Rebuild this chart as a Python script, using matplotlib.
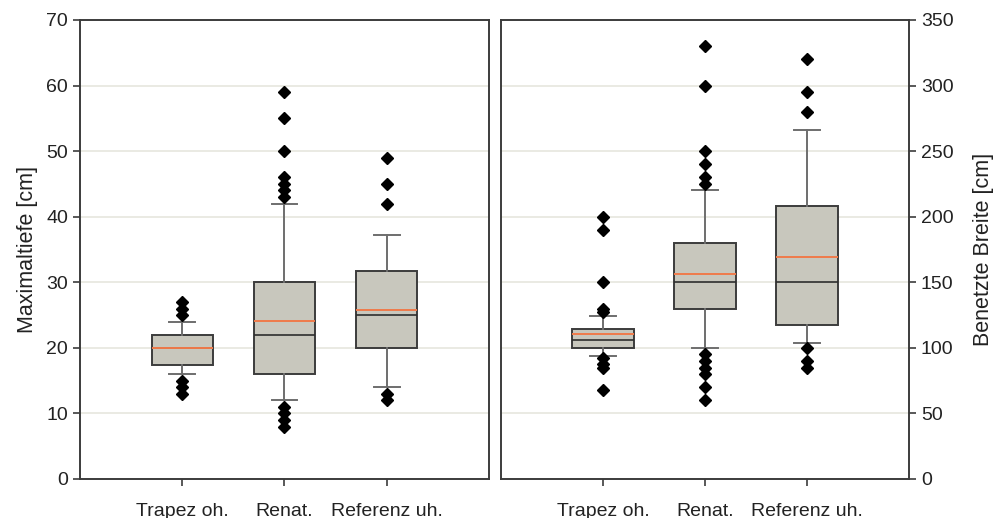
import matplotlib.pyplot as plt

plt.rcParams['font.family'] = ['Liberation Sans', 'DejaVu Sans']

categories = ['Trapez oh.', 'Renat.', 'Referenz uh.']

# Maximaltiefe [cm]
depth_q1 = [17.4, 16, 20]
depth_med = [20, 22, 25]
depth_q3 = [22, 30, 31.7]
depth_mean = [20, 24.1, 25.8]
depth_wlo = [16, 12, 14]
depth_whi = [24, 42, 37.2]
depth_fliers = [
    [25, 26, 27, 15, 14, 13],
    [59, 55, 50, 46, 45, 44, 43, 11, 10, 9, 8],
    [49, 45, 42, 13, 12],
]

# Benetzte Breite [cm]
width_q1 = [100, 130, 117.4]
width_med = [106, 150, 150]
width_q3 = [114.4, 180, 208.4]
width_mean = [110.3, 156, 169]
width_wlo = [94, 100, 103.5]
width_whi = [124.3, 220, 266]
width_fliers = [
    [200, 190, 150, 130, 127, 92, 88, 85, 68],
    [330, 300, 250, 240, 230, 225, 95, 90, 85, 80, 70, 60],
    [320, 295, 280, 100, 90, 85],
]


def make_stats(q1, med, q3, mean, wlo, whi, fliers):
    stats = []
    for i in range(len(categories)):
        stats.append(dict(q1=q1[i], med=med[i], q3=q3[i], mean=mean[i],
                          whislo=wlo[i], whishi=whi[i], fliers=fliers[i]))
    return stats


fig = plt.figure(figsize=(9.97, 5.18), dpi=100)
ax1 = fig.add_axes([0.0802, 0.0753, 0.4103, 0.8861])
ax2 = fig.add_axes([0.5025, 0.0753, 0.4092, 0.8861])

frame_col = '#3c3c3c'
text_col = '#222222'
box_style = dict(facecolor='#c8c7bd', edgecolor=frame_col, linewidth=1.4)
whisker_style = dict(color='#6e6e6e', linewidth=1.4)
median_style = dict(color='#2e2e2e', linewidth=1.2)
mean_style = dict(color='#f07a4a', linewidth=1.4, linestyle='-')
flier_style = dict(marker='D', markerfacecolor='black', markeredgecolor='black',
                   markersize=6.5, linestyle='none')

panels = [
    (ax1, make_stats(depth_q1, depth_med, depth_q3, depth_mean, depth_wlo, depth_whi, depth_fliers),
     70, 10),
    (ax2, make_stats(width_q1, width_med, width_q3, width_mean, width_wlo, width_whi, width_fliers),
     350, 50),
]

for ax, stats, ymax, step in panels:
    ax.bxp(stats, positions=[1, 2, 3], widths=0.6, patch_artist=True,
           showmeans=True, meanline=True,
           boxprops=box_style, whiskerprops=whisker_style, capprops=whisker_style,
           medianprops=median_style, meanprops=mean_style, flierprops=flier_style,
           capwidths=0.25)
    ax.set_xlim(0, 4)
    ax.set_ylim(0, ymax)
    ax.set_yticks(range(0, ymax + 1, step))
    ax.set_xticks([1, 2, 3])
    ax.set_xticklabels(categories, fontsize=18)
    ax.yaxis.grid(True, color='#e6e6de', linewidth=1.2)
    ax.set_axisbelow(True)
    for sp in ax.spines.values():
        sp.set_color(frame_col)
        sp.set_linewidth(1.4)
    ax.tick_params(axis='both', colors=frame_col, labelcolor=text_col, labelsize=14,
                   length=5, width=1.2)
    ax.tick_params(axis='x', pad=12)

ax1.set_ylabel('Maximaltiefe [cm]', fontsize=15.5, color=text_col, labelpad=6)
ax2.yaxis.tick_right()
ax2.yaxis.set_label_position('right')
ax2.set_ylabel('Benetzte Breite [cm]', fontsize=15.5, color=text_col, labelpad=14)

fig.savefig('out.png', dpi=100)
